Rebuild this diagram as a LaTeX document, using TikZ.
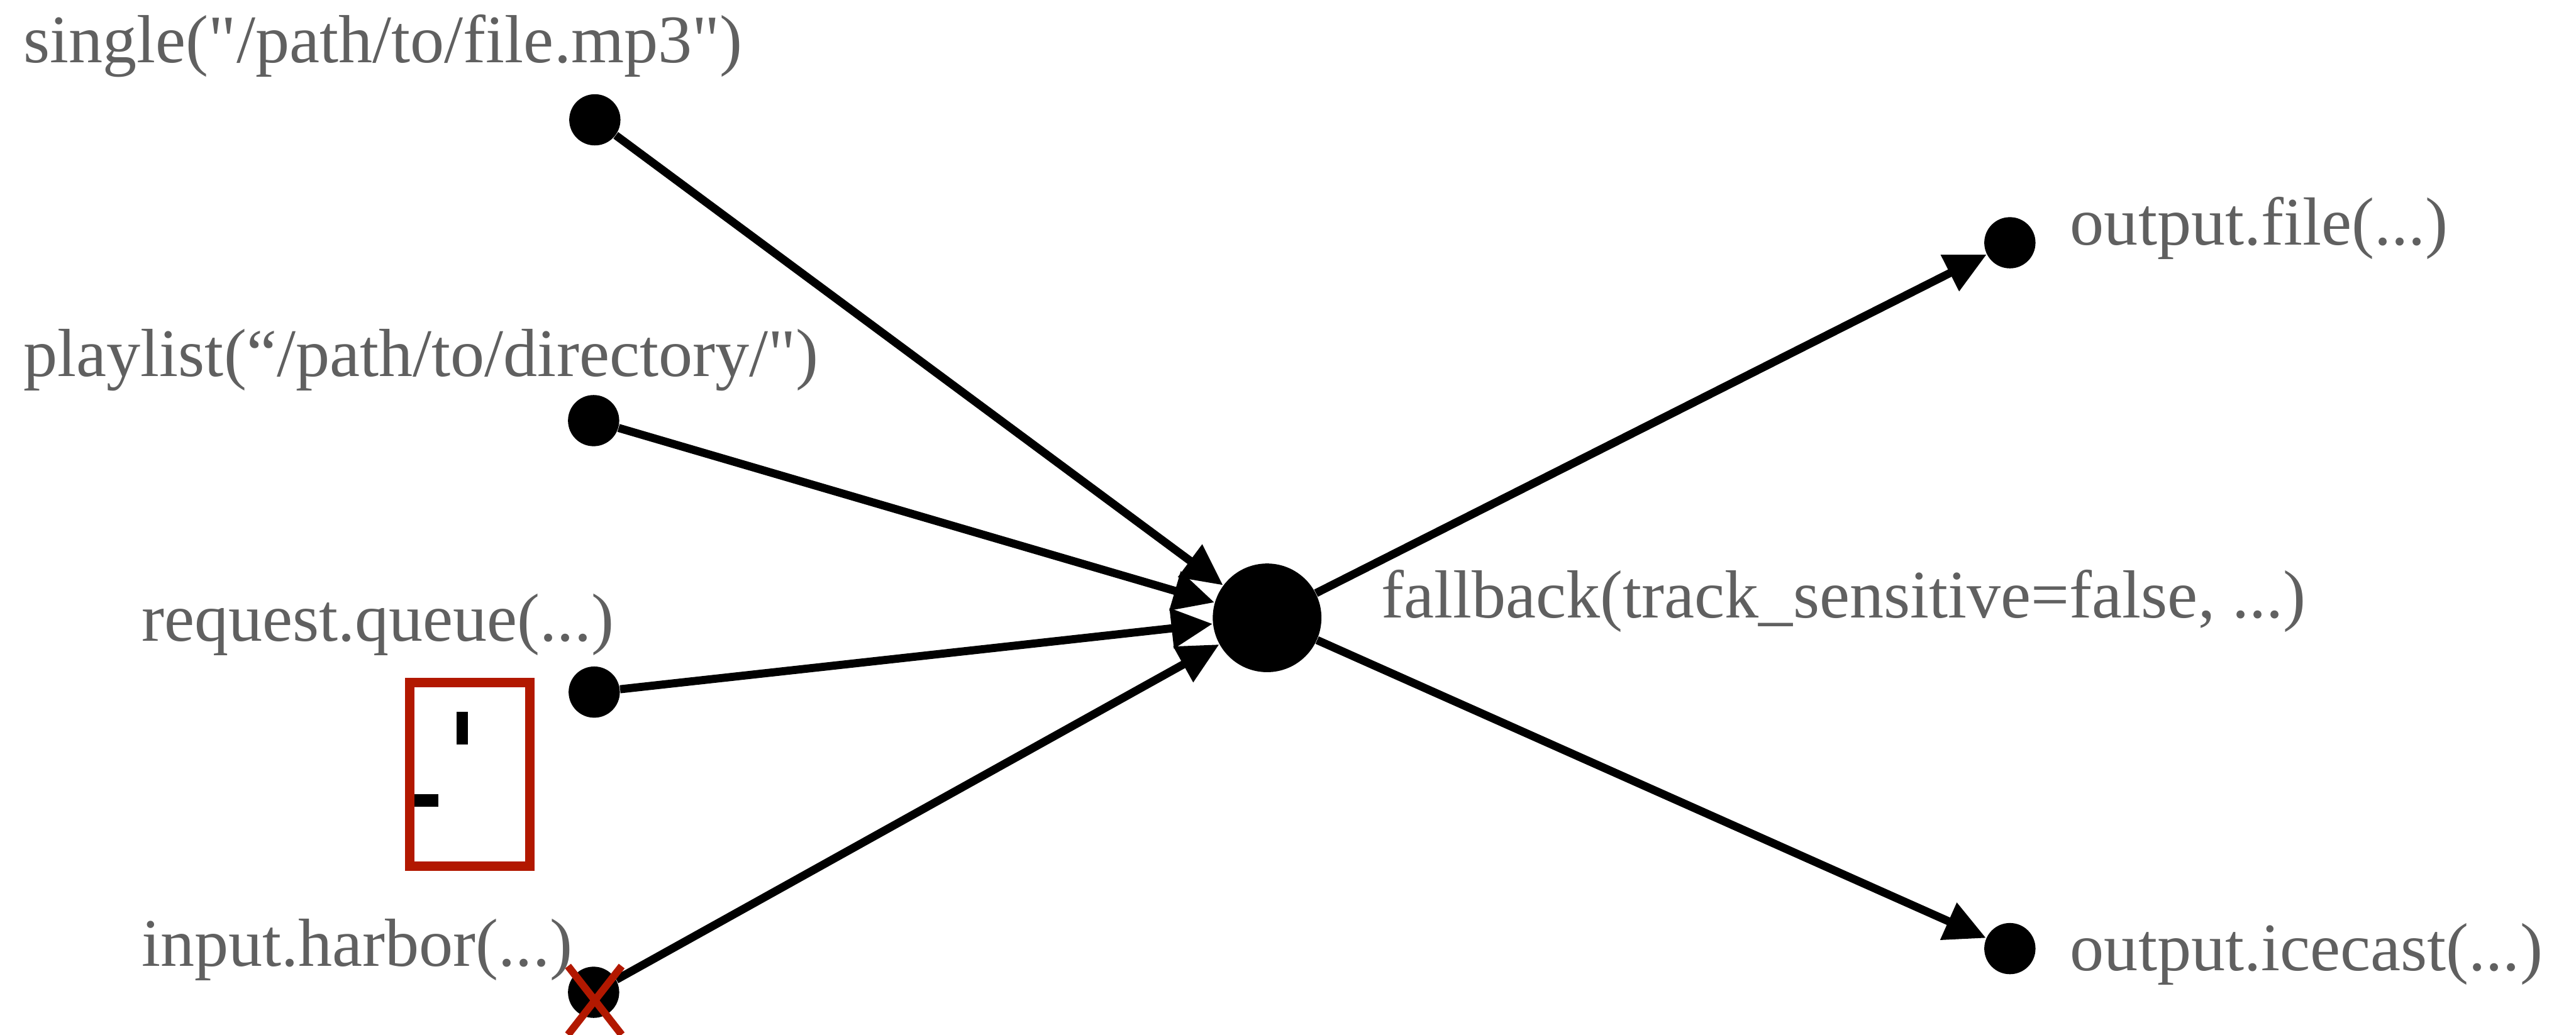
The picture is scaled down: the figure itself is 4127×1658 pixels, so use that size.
\documentclass[tikz,border=0pt]{standalone}
\usepackage{fontspec}
\setmainfont{Liberation Serif}[Ligatures=TeXOff]
\usetikzlibrary{arrows.meta}
\definecolor{LsGray}{RGB}{96,96,96}
\definecolor{LsRed}{RGB}{178,24,0}
\tikzset{
  ls/dot/.style={circle, fill=black, inner sep=0pt, minimum size=0.82cm},
  ls/hub/.style={circle, fill=black, inner sep=0pt, minimum size=1.74cm},
  ls/label/.style={anchor=base west, inner sep=0pt, text=LsGray, font=\fontsize{31}{36}\selectfont},
  ls/arrow/.style={-{Triangle[length=6.6mm,width=6.2mm]}, line width=3.7pt, draw=black},
  ls/cross/.style={draw=LsRed, line width=3.4pt},
  ls/stub/.style={draw=LsRed, line width=4.3pt}
}
\begin{document}
\begin{tikzpicture}[x=0.01cm,y=-0.01cm]
  \useasboundingbox (0,0) rectangle (4127,1658);
  % sources
  \node[ls/dot] (single) at (953,192) {};
  \node[ls/dot] (playlist) at (951,674) {};
  \node[ls/dot] (queue) at (952,1109) {};
  \node[ls/dot] (harbor) at (951,1590) {};
  % fallback and outputs
  \node[ls/hub] (fallback) at (2030,990) {};
  \node[ls/dot] (file) at (3220,389) {};
  \node[ls/dot] (icecast) at (3220,1520) {};
  % labels
  \node[ls/label] (single-lbl) at (37,100) {single("/path/to/file.mp3")};
  \node[ls/label] (playlist-lbl) at (37,603) {playlist(“/path/to/directory/")};
  \node[ls/label] (queue-lbl) at (226,1027) {request.queue(...)};
  \node[ls/label] (harbor-lbl) at (226,1548) {input.harbor(...)};
  \node[ls/label] (fallback-lbl) at (2212,990) {fallback(track\_sensitive=false, ...)};
  \node[ls/label] (file-lbl) at (3316,392) {output.file(...)};
  \node[ls/label] (icecast-lbl) at (3316,1555) {output.icecast(...)};
  % connections
  \draw[ls/arrow] (single) -- (fallback);
  \draw[ls/arrow] (playlist) -- (fallback);
  \draw[ls/arrow] (queue) -- (fallback);
  \draw[ls/arrow] (harbor) -- (fallback);
  \draw[ls/arrow] (fallback) -- (file);
  \draw[ls/arrow] (fallback) -- (icecast);
  % red box and cross
  \draw[ls/stub] (656,1094) rectangle (849,1388);
  \fill (731,1141) rectangle (750,1193);
  \fill (664,1273) rectangle (702,1293);
  \draw[ls/cross] (910,1548) -- (996,1658);
  \draw[ls/cross] (996,1548) -- (910,1658);
\end{tikzpicture}
\end{document}
